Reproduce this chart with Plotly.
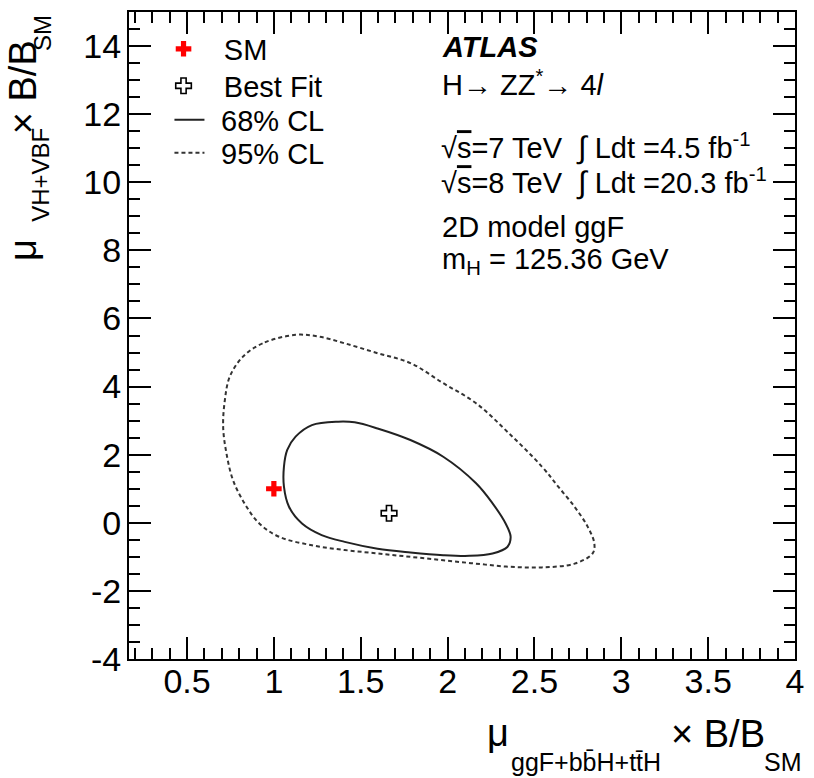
import plotly.graph_objects as go

# 68% and 95% CL contours in the (mu_ggF, mu_VH+VBF) plane
cl68_x = [1.370, 1.219, 1.125, 1.077, 1.058, 1.058, 1.087, 1.162, 1.275, 1.408,
          1.597, 1.786, 1.975, 2.126, 2.259, 2.344, 2.363, 2.334, 2.259, 2.164,
          1.975, 1.786, 1.597, 1.465, 1.370]
cl68_y = [2.97, 2.87, 2.53, 2.14, 1.65, 1.06, 0.47, -0.02, -0.36, -0.56,
          -0.76, -0.87, -0.95, -0.97, -0.90, -0.71, -0.41, -0.02, 0.57, 1.16,
          1.94, 2.43, 2.77, 2.95, 2.97]

cl95_x = [1.125, 0.935, 0.822, 0.746, 0.718, 0.708, 0.727, 0.765, 0.831, 0.916,
          1.030, 1.219, 1.408, 1.597, 1.786, 1.975, 2.164, 2.353, 2.543, 2.731,
          2.835, 2.845, 2.807, 2.731, 2.637, 2.543, 2.353, 2.164, 1.975, 1.786,
          1.597, 1.408, 1.257, 1.125]
cl95_y = [5.52, 5.27, 4.88, 4.29, 3.61, 2.82, 2.04, 1.25, 0.57, -0.02,
          -0.41, -0.66, -0.80, -0.90, -1.00, -1.10, -1.20, -1.29, -1.31, -1.20,
          -0.90, -0.61, -0.12, 0.47, 1.06, 1.65, 2.63, 3.51, 4.10, 4.69,
          4.98, 5.27, 5.47, 5.52]

sm_point = ([1.0], [1.0])
best_fit = ([1.663], [0.28])

x_range = [0.166, 4.0]
y_range = [-4.0, 15.0]
x_ticks = [0.5, 1, 1.5, 2, 2.5, 3, 3.5, 4]
x_tick_text = ["0.5", "1", "1.5", "2", "2.5", "3", "3.5", "4"]
y_ticks = [-4, -2, 0, 2, 4, 6, 8, 10, 12, 14]
y_tick_text = ["-4", "-2", "0", "2", "4", "6", "8", "10", "12", "14"]

FONT = "Liberation Sans, Arial, Helvetica, sans-serif"
W, H = 814, 778
L, R, T, B = 129, 10, 11, 119
PW, PH = W - L - R, H - T - B


def px(xp):
    return (xp - L) / PW


def py(yp):
    return (H - B - yp) / PH


fig = go.Figure()

# Each legend entry gets its own small legend so the rows sit tightly
fig.add_trace(go.Scatter(
    x=sm_point[0], y=sm_point[1], mode="markers", name="\u2002\u2009SM",
    legend="legend",
    marker=dict(symbol="cross", size=13, color="#ff0000",
                line=dict(width=0))))
fig.add_trace(go.Scatter(
    x=best_fit[0], y=best_fit[1], mode="markers", name="\u2002\u2009Best Fit",
    legend="legend2",
    marker=dict(symbol="cross-open", size=13, color="black",
                line=dict(width=1.6, color="black"))))
fig.add_trace(go.Scatter(
    x=cl68_x, y=cl68_y, mode="lines", name="\u2009\u200968% CL",
    legend="legend3",
    line=dict(color="#222222", width=2, shape="spline", smoothing=1.0)))
fig.add_trace(go.Scatter(
    x=cl95_x, y=cl95_y, mode="lines", name="\u2009\u200995% CL",
    legend="legend4",
    line=dict(color="#333333", width=2, dash="4px,3px", shape="spline",
              smoothing=1.0)))

axis_common = dict(
    showline=True, linecolor="black", linewidth=2, mirror="ticks",
    ticks="inside", ticklen=22, tickwidth=2, tickcolor="black",
    showgrid=False, zeroline=False,
    tickfont=dict(family=FONT, size=34, color="black"),
)

fig.update_xaxes(
    range=x_range, tickvals=x_ticks, ticktext=x_tick_text,
    ticklabelstandoff=-9,
    minor=dict(ticks="inside", ticklen=11, tickwidth=1.7, dtick=0.1,
               tick0=0, tickcolor="black", showgrid=False),
    **axis_common)
fig.update_yaxes(
    range=y_range, tickvals=y_ticks, ticktext=y_tick_text,
    ticklabelstandoff=-1,
    minor=dict(ticks="inside", ticklen=11, tickwidth=1.7, dtick=0.5,
               tick0=0, tickcolor="black", showgrid=False),
    **axis_common)

annotations = []


def note(text, x, y, size, xanchor="left", yanchor="middle", angle=0, **kw):
    annotations.append(dict(
        text=text, x=px(x), y=py(y), xref="paper", yref="paper",
        xanchor=xanchor, yanchor=yanchor, textangle=angle, showarrow=False,
        font=dict(family=FONT, size=size, color="black"), **kw))


INT = "<span style='font-size:31px'>\u222B</span>"
SQRT_S = "\u221A<span style='text-decoration:overline'>s</span>"

# Experiment labels
note("<b><i>ATLAS</i></b>", 444, 46, 29)
note("H\u2192 ZZ<sup>*</sup>\u2192 4<i>l</i>", 444, 82, 29)
note(SQRT_S + "=7 TeV  " + INT + " Ldt =4.5 fb<sup>-1</sup>", 443, 146, 29)
note(SQRT_S + "=8 TeV  " + INT + " Ldt =20.3 fb<sup>-1</sup>", 443, 181, 29)
note("2D model ggF", 444, 226, 29)
note("m<sub>H</sub> = 125.36 GeV", 444, 260, 29)

# x-axis title
note("\u03BC", 490, 733, 38)
note("ggF+bb\u0304H+tt\u0304H", 514, 762, 25)
note("\u00D7 B/B", 676, 734, 38)
note("SM", 771, 762, 25)

# y-axis title (rotated)
note("\u03BC", 21, 262, 38, xanchor="center", yanchor="bottom", angle=-90)
note("VH+VBF", 39, 223, 24, xanchor="center", yanchor="bottom", angle=-90)
note("\u00D7 B/B", 21, 135, 38, xanchor="center", yanchor="bottom", angle=-90)
note("SM", 42, 52, 24, xanchor="center", yanchor="bottom", angle=-90)

legend_style = dict(
    xanchor="left", yanchor="middle", bgcolor="rgba(0,0,0,0)",
    borderwidth=0, font=dict(family=FONT, size=29, color="black"),
    itemwidth=30,
)
legend_rows = {"legend": 48, "legend2": 85, "legend3": 119, "legend4": 152}
legend_left = {"legend": 164, "legend2": 164, "legend3": 170, "legend4": 170}

layout_legends = {
    key: dict(x=px(legend_left[key]), y=py(row), **legend_style)
    for key, row in legend_rows.items()
}

fig.update_layout(
    width=W, height=H,
    margin=dict(l=L, r=R, t=T, b=B),
    paper_bgcolor="white", plot_bgcolor="white",
    font=dict(family=FONT, color="black"),
    annotations=annotations,
    showlegend=True,
    **layout_legends,
)

fig.write_html("out.html")
